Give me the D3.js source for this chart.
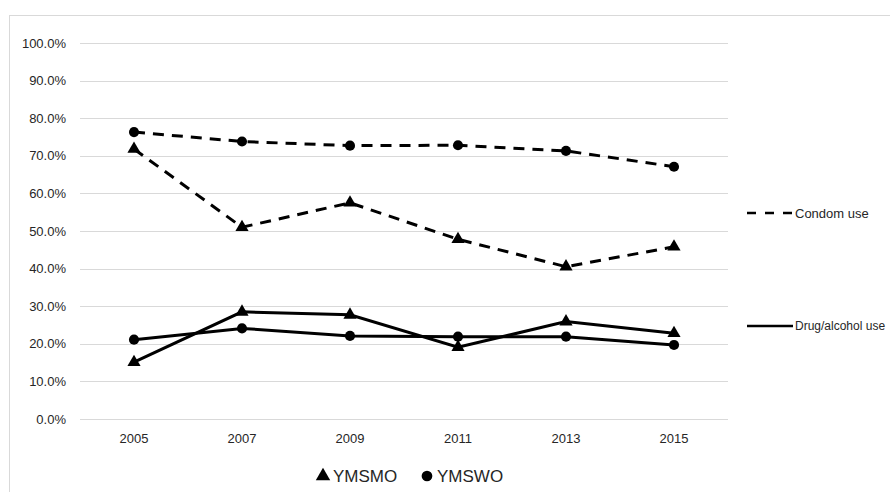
<!DOCTYPE html>
<html>
<head>
<meta charset="utf-8">
<script src="https://cdn.jsdelivr.net/npm/d3@7"></script>
<style>
  body { margin: 0; background: #fff; }
  text { font-family: "Liberation Sans", Arial, sans-serif; fill: #262626; }
</style>
</head>
<body>
<div id="chart"></div>
<script>
const years = ["2005", "2007", "2009", "2011", "2013", "2015"];
const yTicks = [0, 10, 20, 30, 40, 50, 60, 70, 80, 90, 100];

// percentages
const condomYMSMO = [71.8, 51.0, 57.5, 47.8, 40.5, 45.8];
const condomYMSWO = [76.3, 73.8, 72.7, 72.8, 71.3, 67.1];
const drugYMSMO = [15.1, 28.5, 27.7, 19.1, 25.9, 22.8];
const drugYMSWO = [21.1, 24.1, 22.1, 21.9, 21.9, 19.7];

const series = [
  { values: condomYMSMO, marker: "triangle", dashed: true },
  { values: condomYMSWO, marker: "circle", dashed: true },
  { values: drugYMSMO, marker: "triangle", dashed: false },
  { values: drugYMSWO, marker: "circle", dashed: false }
];

const W = 890, H = 492;
const svg = d3.select("#chart").append("svg")
    .attr("width", W)
    .attr("height", H);

// chart area border (runs off the right and bottom edge)
svg.append("rect")
    .attr("x", 9.5).attr("y", 15.5)
    .attr("width", 900).attr("height", 500)
    .attr("fill", "none")
    .attr("stroke", "#d9d9d9");

const x = d3.scaleBand().domain(years).range([80, 728]);
const y = d3.scaleLinear().domain([0, 100]).range([419, 43]);

// gridlines
svg.append("g")
  .selectAll("line")
  .data(yTicks)
  .join("line")
    .attr("x1", 80).attr("x2", 728)
    .attr("y1", d => Math.round(y(d)) + 0.5)
    .attr("y2", d => Math.round(y(d)) + 0.5)
    .attr("stroke", "#d9d9d9")
    .attr("stroke-width", 1);

// y labels
svg.append("g")
  .selectAll("text")
  .data(yTicks)
  .join("text")
    .attr("x", 66)
    .attr("y", d => y(d))
    .attr("dy", "0.35em")
    .attr("text-anchor", "end")
    .attr("font-size", 13)
    .text(d => d.toFixed(1) + "%");

// x labels
svg.append("g")
  .selectAll("text")
  .data(years)
  .join("text")
    .attr("x", d => x(d) + x.bandwidth() / 2)
    .attr("y", 443)
    .attr("text-anchor", "middle")
    .attr("font-size", 13)
    .text(d => d);

const line = d3.line()
    .x((d, i) => x(years[i]) + x.bandwidth() / 2)
    .y(d => y(d));

const tri = d3.symbol().type(d3.symbolTriangle).size(75);
const dot = d3.symbol().type(d3.symbolCircle).size(80);

series.forEach(s => {
  svg.append("path")
      .attr("d", line(s.values))
      .attr("fill", "none")
      .attr("stroke", "#000")
      .attr("stroke-width", 3)
      .attr("stroke-dasharray", s.dashed ? "11,8" : null);

  svg.append("g")
    .selectAll("path")
    .data(s.values)
    .join("path")
      .attr("d", s.marker === "triangle" ? tri() : dot())
      .attr("transform", (d, i) => `translate(${x(years[i]) + x.bandwidth() / 2},${y(d)})`)
      .attr("fill", "#000");
});

// right legend (line styles)
const lineLegend = [
  { label: "Condom use", dashed: true, y: 213, size: 13 },
  { label: "Drug/alcohol use", dashed: false, y: 326, size: 12 }
];
lineLegend.forEach(l => {
  svg.append("line")
      .attr("x1", 747).attr("x2", 793)
      .attr("y1", l.y).attr("y2", l.y)
      .attr("stroke", "#000")
      .attr("stroke-width", 2.5)
      .attr("stroke-dasharray", l.dashed ? "9,9" : null);
  svg.append("text")
      .attr("x", 795)
      .attr("y", l.y)
      .attr("dy", "0.35em")
      .attr("font-size", l.size)
      .text(l.label);
});

// bottom legend (markers)
const markerLegend = [
  { label: "YMSMO", marker: "triangle", x: 323 },
  { label: "YMSWO", marker: "circle", x: 427 }
];
markerLegend.forEach(m => {
  const sym = m.marker === "triangle"
    ? d3.symbol().type(d3.symbolTriangle).size(90)
    : d3.symbol().type(d3.symbolCircle).size(90);
  svg.append("path")
      .attr("d", sym())
      .attr("transform", `translate(${m.x},476)`)
      .attr("fill", "#000");
  svg.append("text")
      .attr("x", m.x + 10)
      .attr("y", 476)
      .attr("dy", "0.35em")
      .attr("font-size", 17)
      .text(m.label);
});
</script>
</body>
</html>
